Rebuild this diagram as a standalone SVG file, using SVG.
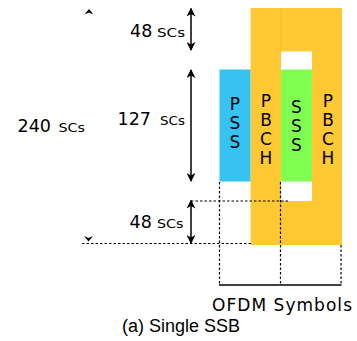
<svg xmlns="http://www.w3.org/2000/svg" width="357" height="341" viewBox="0 0 357 341">
<style>
.v{font-family:"DejaVu Sans",Verdana,sans-serif;fill:#000}
.num{font-size:17.5px}
.scs{font-size:12px}
.col{font-size:17px;writing-mode:vertical-rl;text-orientation:upright;letter-spacing:-1px}
.dash{stroke:#000;stroke-width:1.2;stroke-dasharray:2.5 2;fill:none}
.arr{stroke:#000;stroke-width:1.5;fill:none}
.cap{font-family:"Liberation Sans",Arial,sans-serif;font-size:18px;fill:#000}
</style>
<defs>
<marker id="ah" viewBox="0 0 10 10" refX="9" refY="5" markerWidth="9" markerHeight="9" markerUnits="userSpaceOnUse" orient="auto-start-reverse">
<path d="M0,0 L10,5 L0,10 L3,5 Z" fill="#000"/>
</marker>
</defs>
<rect width="357" height="341" fill="#fff"/>
<g id="PBCH">
<rect x="250.5" y="8" width="91.5" height="237" fill="#FFC933"/>
<line x1="281" y1="8" x2="281" y2="51.5" stroke="#F5BC1E" stroke-width="1"/>
<rect x="281" y="51.5" width="31" height="149.5" fill="#fff"/>
<text class="v col" x="266" y="91">PBCH</text>
<text class="v col" x="328" y="91">PBCH</text>
</g>
<g id="PSS">
<rect x="219.5" y="69.5" width="31" height="112" fill="#36C3F2"/>
<text class="v col" x="235" y="93.5">PSS</text>
</g>
<g id="SSS">
<rect x="281" y="69.5" width="31" height="112" fill="#80FF50"/>
<text class="v col" x="296.5" y="96.5">SSS</text>
</g>
<g id="labels">
<text class="v num" x="130" y="36.5">48</text><text class="v scs" x="157" y="36.5" textLength="28" lengthAdjust="spacingAndGlyphs">SCs</text>
<text class="v num" x="117.5" y="125">127</text><text class="v scs" x="160" y="125" textLength="25" lengthAdjust="spacingAndGlyphs">SCs</text>
<text class="v num" x="17.5" y="131.5">240</text><text class="v scs" x="58.5" y="131.5" textLength="26.5" lengthAdjust="spacingAndGlyphs">SCs</text>
<text class="v num" x="129.5" y="228">48</text><text class="v scs" x="157" y="228" textLength="26.5" lengthAdjust="spacingAndGlyphs">SCs</text>
<text class="v" x="212" y="310.5" font-size="17" textLength="140" lengthAdjust="spacing">OFDM Symbols</text>
<text class="cap" x="122" y="332">(a) Single SSB</text>
</g>
<g id="connectors">
<line class="arr" x1="191" y1="8.5" x2="191" y2="50" marker-start="url(#ah)" marker-end="url(#ah)"/>
<line class="arr" x1="191" y1="70" x2="191" y2="181" marker-start="url(#ah)" marker-end="url(#ah)"/>
<line class="arr" x1="191" y1="200.5" x2="191" y2="243" marker-start="url(#ah)" marker-end="url(#ah)"/>
<path d="M84.5,14.5 L89,9 L93.5,14.5 L89,12.5 Z" fill="#000"/>
<path d="M84,236 L88.5,241.5 L93,236 L88.5,238 Z" fill="#000"/>
<line class="dash" x1="191" y1="201" x2="290" y2="201"/>
<line class="dash" x1="82" y1="243.5" x2="251" y2="243.5"/>
<line class="dash" x1="219.5" y1="182" x2="219.5" y2="285"/>
<line class="dash" x1="280.5" y1="182" x2="280.5" y2="285"/>
<line class="dash" x1="341" y1="245" x2="341" y2="285"/>
<line stroke="#000" stroke-width="1.3" x1="219" y1="285" x2="341.5" y2="285"/>
</g>
</svg>
